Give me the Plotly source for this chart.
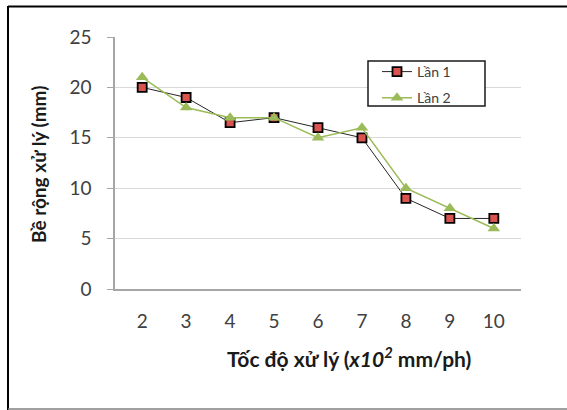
import plotly.graph_objects as go

speeds = ["2", "3", "4", "5", "6", "7", "8", "9", "10"]
lan1 = [20, 19, 16.5, 17, 16, 15, 9, 7, 7]
lan2 = [21, 18, 17, 17, 15, 16, 10, 8, 6]
y_ticks = [0, 5, 10, 15, 20, 25]

FONT = "Lato"
W, H = 567, 410
L, R, T, B = 115, 46, 37, 121
pw, ph = W - L - R, H - T - B


def px(x):
    return (x - L) / pw


def py(y):
    return (H - B - y) / ph


fig = go.Figure()
fig.add_trace(go.Scatter(
    x=speeds, y=lan1, name="Lần 1", mode="lines+markers", legendgroup="a",
    line=dict(color="#262626", width=1),
    marker=dict(symbol="square", size=9, color="#d9534f",
                line=dict(color="#000000", width=1.8)),
))
fig.add_trace(go.Scatter(
    x=speeds, y=lan2, name="Lần 2", mode="lines+markers", legendgroup="b",
    line=dict(color="#9bbb59", width=1.5),
    marker=dict(symbol="triangle-up", size=11, color="#9bbb59",
                line=dict(width=0)),
))

fig.update_layout(
    width=W, height=H,
    margin=dict(l=L, r=R, t=T, b=B),
    paper_bgcolor="white", plot_bgcolor="white",
    font=dict(family=FONT, color="#404040"),
    showlegend=True,
    legend=dict(
        x=px(377), y=py(56), xanchor="left", yanchor="top",
        borderwidth=0, bgcolor="rgba(0,0,0,0)",
        font=dict(size=14, color="#404040"),
        tracegroupgap=5, itemwidth=30,
    ),
    xaxis=dict(
        type="category", categoryorder="array", categoryarray=speeds,
        showgrid=False, showline=True, linecolor="#a6a6a6", linewidth=1.5,
        ticks="", tickfont=dict(size=19, color="#404040"),
        ticklabelstandoff=14, zeroline=False,
    ),
    yaxis=dict(
        range=[0, 25], tickvals=y_ticks, showgrid=True, gridcolor="#d9d9d9",
        gridwidth=1, showline=True, linecolor="#a6a6a6", linewidth=1.5,
        ticks="outside", ticklen=6, tickcolor="#a6a6a6", tickwidth=1,
        tickfont=dict(size=19, color="#404040"), ticklabelstandoff=12,
        zeroline=False,
    ),
    annotations=[
        dict(text="Tốc độ xử lý (<i>x10<sup>2</sup></i> mm/ph)",
             x=px(349), y=py(357), xref="paper", yref="paper",
             showarrow=False, xanchor="center", yanchor="middle",
             font=dict(size=21, color="#1a1a1a", family=FONT, weight="bold")),
        dict(text="Bề rộng xử lý (mm)",
             x=px(38), y=py(165), xref="paper", yref="paper",
             showarrow=False, xanchor="center", yanchor="middle", textangle=-90,
             font=dict(size=19, color="#1a1a1a", family=FONT, weight="bold")),
    ],
    shapes=[
        dict(type="rect", xref="paper", yref="paper", layer="above",
             x0=px(368), x1=px(485), y0=py(61), y1=py(106),
             fillcolor="white", line=dict(color="#1a1a1a", width=1.5)),
        dict(type="line", xref="paper", yref="paper",
             x0=px(8), x1=px(567), y0=py(6.5), y1=py(6.5),
             line=dict(color="#000000", width=2)),
        dict(type="line", xref="paper", yref="paper",
             x0=px(8), x1=px(8), y0=py(6), y1=py(410),
             line=dict(color="#000000", width=2)),
        dict(type="line", xref="paper", yref="paper",
             x0=px(8), x1=px(567), y0=py(409), y1=py(409),
             line=dict(color="#808080", width=1.5)),
    ],
)

fig.write_html("out.html")
